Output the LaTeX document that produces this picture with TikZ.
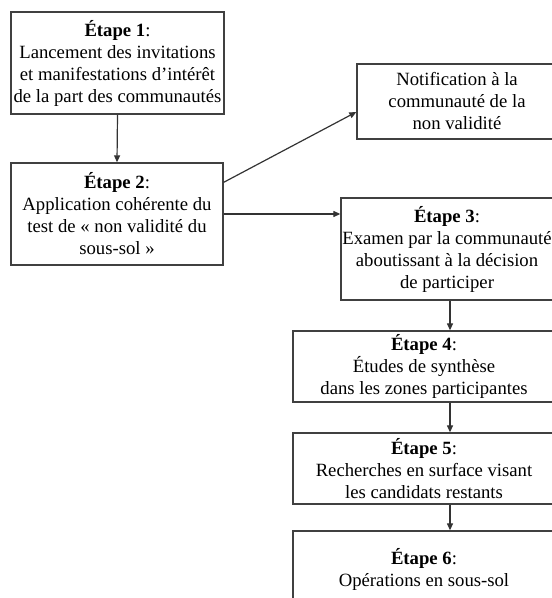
\documentclass[tikz,border=0pt]{standalone}
\usepackage{fontspec}
\setmainfont{Liberation Serif}
\usetikzlibrary{arrows.meta,calc}
\begin{document}
\begin{tikzpicture}[x=1bp,y=-1bp,
  stepbox/.style={draw=black!75,line width=1.3bp,fill=white,align=center,inner sep=0pt,
    font=\fontsize{18.7bp}{22bp}\selectfont},
  conn/.style={draw=black!80,line width=1.2bp,-{Triangle[length=7bp,width=6bp]}}]
\useasboundingbox (0,0) rectangle (552,598);
\clip (0,0) rectangle (552,598);
\node[stepbox,minimum width=213bp,minimum height=102bp] (b1) at (117.5,63)
  {\textbf{Étape 1}:\\Lancement des invitations\\et manifestations d’intérêt\\de la part des communautés};
\node[stepbox,minimum width=212bp,minimum height=102bp] (b2) at (117,214)
  {\textbf{Étape 2}:\\Application cohérente du\\test de « non validité du\\sous-sol »};
\node[stepbox,minimum width=200bp,minimum height=75bp] (nt) at (457,101.5)
  {Notification à la\\communauté de la\\non validité};
\node[stepbox,minimum width=212bp,minimum height=102bp] (b3) at (447,249)
  {\textbf{Étape 3}:\\Examen par la communauté\\aboutissant à la décision\\de participer};
\node[stepbox,minimum width=262bp,minimum height=71bp] (b4) at (424,366.5)
  {\textbf{Étape 4}:\\Études de synthèse\\dans les zones participantes};
\node[stepbox,minimum width=262bp,minimum height=71bp] (b5) at (424,468.5)
  {\textbf{Étape 5}:\\Recherches en surface visant\\les candidats restants};
\node[stepbox,minimum width=262bp,minimum height=76bp] (b6) at (424,569)
  {\textbf{Étape 6}:\\Opérations en sous-sol};
\coordinate (ax) at (450,0);
\draw[conn] (b1.south) -- (b2.north);
\draw[conn] ([yshift=-20bp]b2.north east) -- ([yshift=-10.5bp]nt.west);
\draw[conn] (b2.east) -- (b2.east -| b3.west);
\draw[conn] (b3.south -| ax) -- (b4.north -| ax);
\draw[conn] (b4.south -| ax) -- (b5.north -| ax);
\draw[conn] (b5.south -| ax) -- (b6.north -| ax);
\end{tikzpicture}
\end{document}
